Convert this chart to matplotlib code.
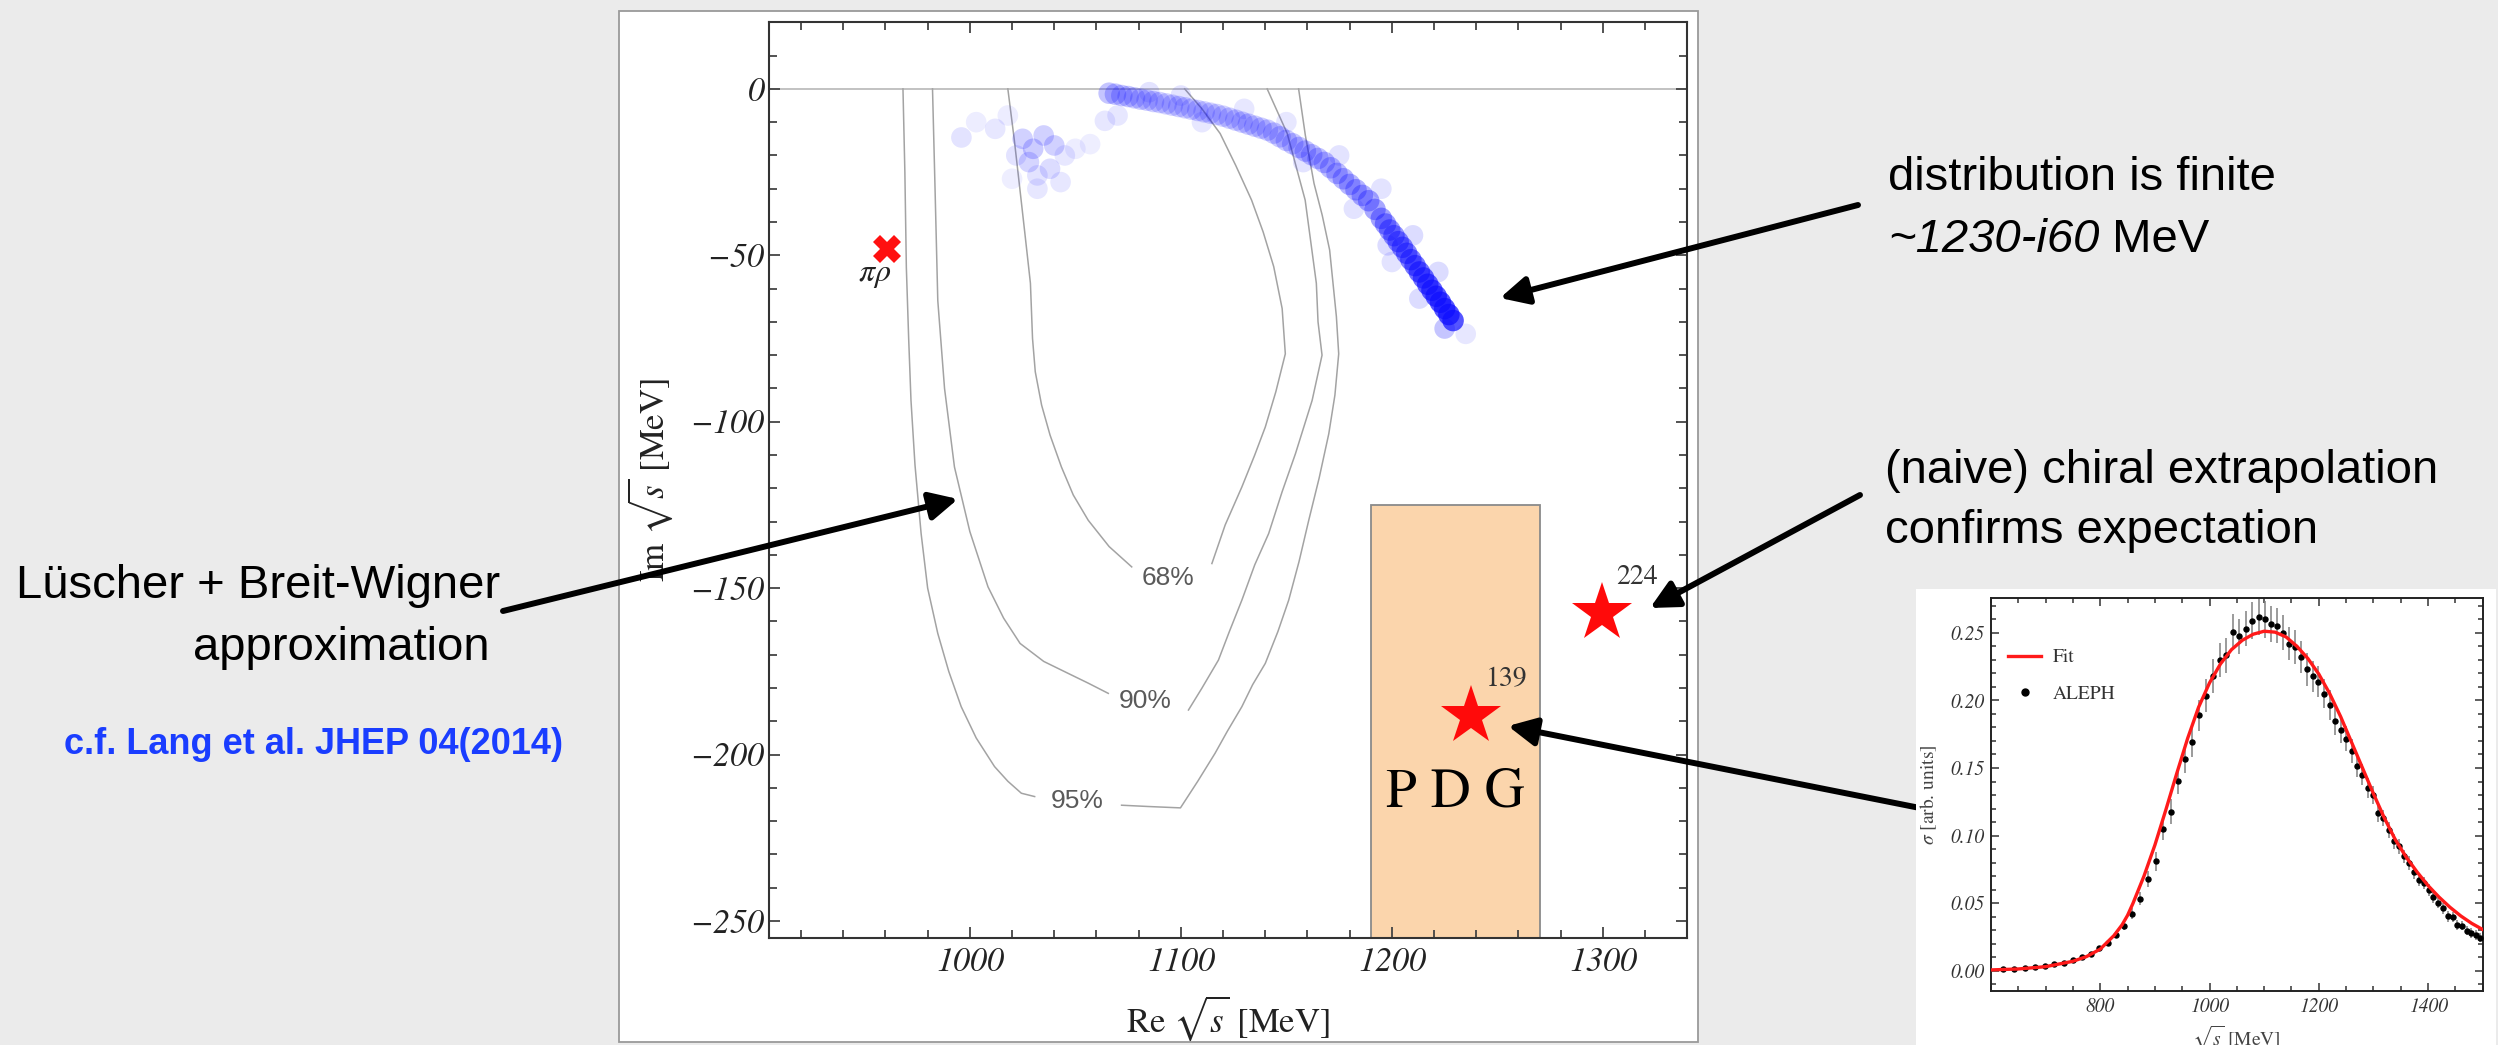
import matplotlib.pyplot as plt
import matplotlib.patches as mpatches
from matplotlib.lines import Line2D
from matplotlib.ticker import MultipleLocator

plt.rcParams['font.family'] = 'STIXGeneral'
plt.rcParams['mathtext.fontset'] = 'stix'

# ---- main panel data ----
# pole distribution (blue band): centre of the samples and their visual density
arc_x = [1066, 1069, 1072, 1075, 1078, 1081, 1084, 1087,
         1090, 1093, 1096, 1099, 1102, 1105, 1108, 1111, 1114, 1117, 1120, 1123, 1126, 1129,
         1132, 1135, 1138, 1141,
         1144, 1147, 1150, 1153, 1156, 1159, 1162, 1165, 1168, 1171, 1174, 1177, 1180, 1183, 1186,
         1189, 1192, 1195, 1197, 1199, 1201, 1203, 1205,
         1207, 1209, 1211, 1213, 1215, 1217, 1219, 1221, 1223, 1225, 1227, 1229]
arc_y = [-1.3, -1.6, -2.0, -2.3, -2.7, -3.1, -3.4, -3.8,
         -4.1, -4.5, -4.9, -5.3, -5.7, -6.1, -6.5, -6.9, -7.3, -7.7, -8.2, -8.8, -9.4, -10.0,
         -10.6, -11.2, -11.8, -12.4,
         -13.3, -14.4, -15.5, -16.5, -17.6, -18.7, -19.8, -20.9, -22.1, -23.7, -25.4, -27.0, -28.7, -30.3, -32.0,
         -33.6, -36.2, -38.9, -40.6, -42.4, -44.1, -45.9, -47.6,
         -49.4, -51.3, -53.1, -55.0, -56.8, -58.7, -60.5, -62.3, -64.1, -66.0, -67.8, -69.6]
arc_w = [0.24, 0.24, 0.22, 0.22, 0.2, 0.2, 0.19, 0.19,
         0.18, 0.18, 0.18, 0.18, 0.18, 0.18, 0.18, 0.18, 0.18, 0.18, 0.18, 0.19, 0.19, 0.19,
         0.2, 0.2, 0.2, 0.2,
         0.21, 0.21, 0.22, 0.22, 0.23, 0.24, 0.24, 0.25, 0.26, 0.27, 0.28, 0.29, 0.3, 0.31, 0.32,
         0.34, 0.36, 0.38, 0.4, 0.42, 0.44, 0.46, 0.48,
         0.5, 0.52, 0.55, 0.58, 0.6, 0.62, 0.65, 0.68, 0.7, 0.7, 0.7, 0.7]

halo_x = [1070, 1085, 1100, 1110, 1130, 1150, 1158, 1175, 1182, 1195, 1200, 1210,
          1222, 1213, 1235, 1198, 1225,
          996, 1003, 1012, 1018, 1025, 1030, 1035, 1040, 1028, 1022, 1032, 1038,
          1045, 1050, 1057, 1032, 1020, 1043, 1064]
halo_y = [-8, -1, -2, -10, -6, -10, -22, -20, -36, -30, -52, -44,
          -55, -63, -73.6, -47, -72,
          -14.6, -10, -12, -8, -15, -18, -14, -17, -22, -20, -26, -24,
          -20, -18, -16.6, -30, -27, -28, -9.6]
halo_w = [0.1, 0.12, 0.12, 0.1, 0.1, 0.1, 0.12, 0.12, 0.12, 0.12, 0.12, 0.15,
          0.15, 0.15, 0.1, 0.15, 0.25,
          0.12, 0.08, 0.1, 0.08, 0.2, 0.22, 0.2, 0.2, 0.18, 0.12, 0.12, 0.15,
          0.1, 0.08, 0.07, 0.1, 0.07, 0.1, 0.1]

# confidence contours (open at the real axis), gaps for labels
c68_left_x = [1018, 1021, 1023.4, 1026, 1028.7, 1029.7, 1031, 1034, 1038, 1043.4, 1049, 1056.1, 1066, 1076.7]
c68_left_y = [0, -15, -28.4, -43, -58.4, -75, -85, -95, -104, -113.6, -122, -129.6, -137.5, -143.6]
c68_right_x = [1114.7, 1121, 1128.9, 1135, 1140, 1145, 1149.5, 1148, 1144, 1139, 1133.5, 1126, 1118.6, 1110, 1101.8]
c68_right_y = [-142.6, -131, -119.6, -110, -101.6, -91, -79.6, -66, -53.4, -43, -33.4, -23, -13.4, -6, 0]

c90_left_x = [982.3, 983.5, 984.8, 988, 992.7, 1000, 1008.6, 1016, 1023.8, 1035, 1046.6, 1056, 1065.6]
c90_left_y = [0, -30, -63.6, -90, -113.6, -133, -149.6, -159, -166.6, -172, -175.6, -178.5, -181.6]
c90_right_x = [1103.6, 1110, 1117.8, 1123, 1128.9, 1135, 1141.6, 1148, 1154.3, 1162.2, 1166.9, 1165, 1164.2, 1158.9, 1150.4, 1140.9]
c90_right_y = [-186.6, -180, -171.6, -163, -153.6, -143, -133.6, -121, -109.6, -93.6, -80, -70, -58.4, -33.4, -13.4, 0]

c95_left_x = [968.3, 969.2, 969.9, 971, 972.1, 974, 976.9, 980, 984.8, 990, 995.9, 1003, 1011.7, 1018, 1024.4, 1030.7]
c95_left_y = [0, -25, -53.6, -75, -93.6, -113, -133.6, -150, -163.6, -175, -185.6, -195, -203.6, -208, -211.6, -212.6]
c95_right_x = [1071.9, 1085, 1099.8, 1108, 1116.2, 1122, 1128.9, 1134, 1140, 1146, 1151.1, 1156, 1160.6,
               1165.5, 1170.1, 1173, 1174.8, 1173.7, 1170.5, 1167, 1163.1, 1159, 1155.8]
c95_right_y = [-215.2, -215.6, -216, -208, -199.6, -193, -185.6, -179, -172.6, -163, -153.6, -142, -129.6,
               -117, -103.6, -92, -79.6, -68.4, -48.4, -38, -28.4, -14, 0]

contour_labels = ['68%', '90%', '95%']
contour_label_x = [1094, 1083, 1051]
contour_label_y = [-146.8, -184, -214]

stars_x = [1237.4, 1299.5]
stars_y = [-188.4, -157.5]
star_labels = ['139', '224']
cross_x, cross_y = 960.5, -48
pdg_x0, pdg_x1, pdg_top = 1190, 1270, -125

main_xticks = [1000, 1100, 1200, 1300]
main_yticks = [0, -50, -100, -150, -200, -250]

# ---- inset data (ALEPH) ----
aleph_x = [622.5, 642.3, 661.4, 680.0, 698.2, 715.9, 733.1, 750.0, 766.5, 782.6,
           798.4, 814.0, 829.2, 844.1, 858.8, 873.2, 887.4, 901.4, 915.1, 928.7,
           942.1, 955.2, 968.2, 981.1, 993.7, 1006.2, 1018.6, 1030.8, 1042.8, 1054.8,
           1066.5, 1078.2, 1089.7, 1101.1, 1112.4, 1123.6, 1134.7, 1145.6, 1156.5, 1167.3,
           1177.9, 1188.5, 1199.0, 1209.3, 1219.6, 1229.8, 1240.0, 1250.0, 1260.0, 1269.8,
           1279.6, 1289.4, 1299.0, 1308.6, 1318.1, 1327.6, 1337.0, 1346.3, 1355.5, 1364.7,
           1373.9, 1382.9, 1391.9, 1400.9, 1409.8, 1418.6, 1427.4, 1436.1, 1444.8, 1453.4,
           1462.0, 1470.5, 1479.0, 1487.4, 1495.8]
aleph_y = [0.0010, 0.0015, 0.0018, 0.0027, 0.0037, 0.0047, 0.0057, 0.0076, 0.0098, 0.0126,
           0.0168, 0.0207, 0.0268, 0.0332, 0.0423, 0.0534, 0.0680, 0.0810, 0.1046, 0.1177,
           0.1407, 0.1570, 0.1690, 0.1890, 0.2036, 0.2180, 0.2298, 0.2335, 0.2507, 0.2475,
           0.2530, 0.2591, 0.2616, 0.2599, 0.2567, 0.2554, 0.2500, 0.2421, 0.2394, 0.2320,
           0.2229, 0.2179, 0.2137, 0.2051, 0.1967, 0.1851, 0.1782, 0.1718, 0.1624, 0.1515,
           0.1451, 0.1352, 0.1300, 0.1167, 0.1130, 0.1039, 0.0958, 0.0920, 0.0846, 0.0797,
           0.0728, 0.0674, 0.0649, 0.0595, 0.0545, 0.0501, 0.0461, 0.0402, 0.0395, 0.0336,
           0.0333, 0.0296, 0.0279, 0.0264, 0.0244]
aleph_err = [0.0008, 0.0008, 0.0008, 0.0009, 0.0010, 0.0010, 0.0011, 0.0012, 0.0013, 0.0015,
             0.0017, 0.0020, 0.0025, 0.0030, 0.0040, 0.0050, 0.0060, 0.0070, 0.0080, 0.0090,
             0.0100, 0.0105, 0.0110, 0.0115, 0.0120, 0.0125, 0.0125, 0.0130, 0.0130, 0.0130,
             0.0130, 0.0135, 0.0135, 0.0135, 0.0135, 0.0130, 0.0130, 0.0125, 0.0125, 0.0120,
             0.0120, 0.0115, 0.0115, 0.0110, 0.0110, 0.0105, 0.0100, 0.0095, 0.0090, 0.0085,
             0.0080, 0.0075, 0.0070, 0.0065, 0.0060, 0.0060, 0.0055, 0.0055, 0.0050, 0.0050,
             0.0048, 0.0046, 0.0045, 0.0044, 0.0042, 0.0040, 0.0040, 0.0038, 0.0038, 0.0036,
             0.0035, 0.0035, 0.0034, 0.0034, 0.0033]
fit_x = [600, 650, 700, 750, 775, 800, 825, 840, 850, 860,
         880, 900, 920, 940, 960, 980, 1000, 1020, 1040, 1060,
         1080, 1100, 1120, 1140, 1160, 1180, 1200, 1220, 1240, 1260,
         1280, 1300, 1320, 1340, 1360, 1380, 1400, 1420, 1440, 1460,
         1480, 1500]
fit_y = [0.0006, 0.0013, 0.0030, 0.0070, 0.0105, 0.0160, 0.0260, 0.0340, 0.0410, 0.0500,
         0.0700, 0.0930, 0.1190, 0.1460, 0.1720, 0.1950, 0.2130, 0.2270, 0.2375, 0.2445,
         0.2490, 0.2512, 0.2505, 0.2470, 0.2400, 0.2310, 0.2195, 0.2050, 0.1880, 0.1690,
         0.1500, 0.1310, 0.1130, 0.0970, 0.0840, 0.0730, 0.0630, 0.0545, 0.0470, 0.0405,
         0.0350, 0.0305]
inset_xticks = [800, 1000, 1200, 1400]
inset_yticks = [0.00, 0.05, 0.10, 0.15, 0.20, 0.25]

W, H = 2498, 1045
SANS = 'Liberation Sans'


def fx(px):
    return px / W


def fy(py):
    return 1 - py / H


fig = plt.figure(figsize=(W / 100, H / 100), dpi=100, facecolor='#ebebeb')

# white panels behind the two plots
fig.add_artist(mpatches.Rectangle((fx(618.7), fy(1041.7)), (1698.3 - 618.7) / W, (1041.7 - 10.7) / H,
                                  transform=fig.transFigure, facecolor='white', edgecolor='#9a9a9a',
                                  lw=1.3, zorder=-1))
fig.add_artist(mpatches.Rectangle((fx(1916), fy(1100)), (2496 - 1916) / W, (1100 - 589) / H,
                                  transform=fig.transFigure, facecolor='white', edgecolor='none',
                                  zorder=4))

# ---------------- main axes ----------------
ax = fig.add_axes([fx(769.4), fy(937.7), (1687.3 - 769.4) / W, (937.7 - 22.3) / H])
ax.set_xlim(905, 1340)
ax.set_ylim(-255, 20)

ax.add_patch(mpatches.Rectangle((pdg_x0, -260), pdg_x1 - pdg_x0, pdg_top + 260,
                                facecolor='#fbd5ac', edgecolor='#8a8a8a', lw=1.3, zorder=1))
ax.text((pdg_x0 + pdg_x1) / 2, -211.6, 'P D G', fontsize=40, ha='center', va='center', zorder=5)

ax.axhline(0, color='#bdbdbd', lw=1.3, zorder=1)

cc = '#a3a3a3'
for xs, ys in [(c68_left_x, c68_left_y), (c68_right_x, c68_right_y),
               (c90_left_x, c90_left_y), (c90_right_x, c90_right_y),
               (c95_left_x, c95_left_y), (c95_right_x, c95_right_y)]:
    ax.plot(xs, ys, color=cc, lw=1.1, zorder=2)
for lab, lx, ly in zip(contour_labels, contour_label_x, contour_label_y):
    ax.text(lx, ly, lab, fontsize=19, family=SANS, color='#5a5a5a', ha='center', va='center')

ax.scatter(halo_x, halo_y, s=220, color=[(0.1, 0.1, 1.0, w) for w in halo_w], linewidths=0, zorder=3)
ax.scatter(arc_x, arc_y, s=240, color=[(0.05, 0.05, 1.0, w) for w in arc_w], linewidths=0, zorder=3)

ax.plot(stars_x, stars_y, ls='none', marker='*', ms=45, color='#ff0a0a', mew=0, zorder=4)
for sx, sy, sl in zip(stars_x, stars_y, star_labels):
    ax.text(sx + 7, sy + 7, sl, fontsize=20, color='#333333', ha='left', va='bottom')

ax.plot([cross_x], [cross_y], ls='none', marker='X', ms=20, color='#ff1010', mew=0, zorder=4)
ax.text(cross_x - 5.5, cross_y - 8, r'$\pi\rho$', fontsize=23, color='#222222', ha='center', va='center')

ax.set_xticks(main_xticks, [str(v) for v in main_xticks], fontstyle='italic')
ax.set_yticks(main_yticks, [str(v).replace('-', '\u2212') for v in main_yticks], fontstyle='italic')
ax.xaxis.set_minor_locator(MultipleLocator(20))
ax.yaxis.set_minor_locator(MultipleLocator(10))
ax.tick_params(which='both', direction='in', top=True, right=True, color='#444444', width=1.3,
               labelsize=24.5, labelcolor='#222222')
ax.tick_params(axis='x', which='both', pad=7)
ax.tick_params(which='major', length=8)
ax.tick_params(which='minor', length=5.5)
for sp in ax.spines.values():
    sp.set_color('#333333')
    sp.set_linewidth(1.5)

ax.set_xlabel(r'Re $\sqrt{s}$ [MeV]', fontsize=25, color='#222222', va='center')
ax.xaxis.set_label_coords(0.5, -0.088)
ax.set_ylabel(r'Im $\sqrt{s}$ [MeV]', fontsize=25, color='#222222', va='center')
ax.yaxis.set_label_coords(-0.130, 0.5)

# ---------------- inset ----------------
ax2 = fig.add_axes([fx(1991), fy(991), (2482.7 - 1991) / W, (991 - 597.7) / H], zorder=5)
ax2.set_xlim(600, 1500)
ax2.set_ylim(-0.015, 0.276)
ax2.errorbar(aleph_x, aleph_y, yerr=aleph_err, fmt='o', ms=3.6, color='black', ecolor='#808080',
             elinewidth=1.1, capsize=0, zorder=3)
ax2.plot(fit_x, fit_y, color='#ff1a1a', lw=2.4, zorder=4, solid_joinstyle='round')

ax2.set_xticks(inset_xticks, [str(v) for v in inset_xticks], fontstyle='italic')
ax2.set_yticks(inset_yticks, ['%.2f' % v for v in inset_yticks], fontstyle='italic')
ax2.xaxis.set_minor_locator(MultipleLocator(50))
ax2.yaxis.set_minor_locator(MultipleLocator(0.01))
ax2.tick_params(which='both', direction='in', top=True, right=True, color='#333333', width=1.1,
                labelsize=14, labelcolor='#333333', pad=5)
ax2.tick_params(which='major', length=6)
ax2.tick_params(which='minor', length=3.5)
for sp in ax2.spines.values():
    sp.set_color('#222222')
    sp.set_linewidth(1.4)
ax2.set_ylabel(r'$\sigma$ [arb. units]', fontsize=14, color='#444444', va='center')
ax2.yaxis.set_label_coords(-0.126, 0.5)
ax2.set_xlabel(r'$\sqrt{s}$ [MeV]', fontsize=14, color='#444444', va='center')
ax2.xaxis.set_label_coords(0.5, -0.12)

handles = [Line2D([], [], color='#ff1a1a', lw=2.4),
           Line2D([], [], ls='none', marker='o', ms=5, color='black')]
ax2.legend(handles, ['Fit', 'ALEPH'], loc='upper left', bbox_to_anchor=(0.035, 0.87),
           frameon=False, fontsize=14, labelcolor='#333333', handlelength=1.7,
           handletextpad=0.6, labelspacing=0.95, borderpad=0, borderaxespad=0)

# ---------------- slide annotations ----------------
fig.text(fx(1888), fy(178), 'distribution is finite', fontsize=34, family=SANS, va='center')
t1 = fig.text(fx(1888), fy(240), '~1230-i60', fontsize=34, family=SANS, style='italic', va='center')
ax.annotate(' MeV', xy=(1, 0), xycoords=t1, va='bottom', ha='left', fontsize=34, family=SANS,
            annotation_clip=False)
fig.text(fx(1885), fy(471), '(naive) chiral extrapolation', fontsize=34, family=SANS, va='center')
fig.text(fx(1885), fy(531), 'confirms expectation', fontsize=34, family=SANS, va='center')
fig.text(fx(16), fy(586), 'Lüscher + Breit-Wigner', fontsize=34, family=SANS, va='center')
fig.text(fx(490), fy(648), 'approximation', fontsize=34, family=SANS, va='center', ha='right')
fig.text(fx(64), fy(744), 'c.f. Lang et al. JHEP 04(2014)', fontsize=26, family=SANS,
         weight='bold', color='#1a3dff', va='center')

arrows = [((1858, 205), (1500, 298), 3), ((503, 611), (958, 499), 3),
          ((1860, 495), (1650, 608), 3), ((1930, 810), (1508, 726), 3)]
for (x0, y0), (x1, y1), z in arrows:
    fig.add_artist(mpatches.FancyArrowPatch((fx(x0), fy(y0)), (fx(x1), fy(y1)),
                                            transform=fig.transFigure, arrowstyle='-|>',
                                            mutation_scale=42, lw=4.3, color='black',
                                            shrinkA=0, shrinkB=0, zorder=z))

fig.savefig('out.png', dpi=100, facecolor=fig.get_facecolor())
